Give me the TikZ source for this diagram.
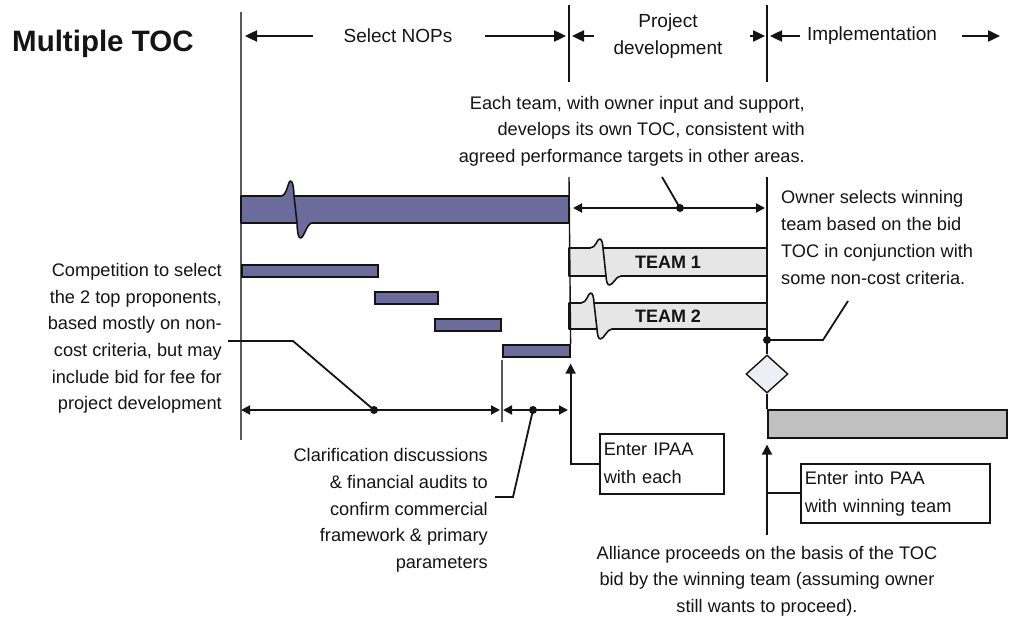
\documentclass[tikz,border=0pt]{standalone}
\usepackage{fontspec}
\setmainfont{Liberation Sans}
\usetikzlibrary{arrows.meta,shapes.geometric,calc}

\definecolor{barblue}{RGB}{108,108,156}
\definecolor{teamgrey}{RGB}{230,230,230}
\definecolor{implgrey}{RGB}{192,192,192}
\definecolor{diafill}{RGB}{238,238,245}
\definecolor{ink}{RGB}{20,20,20}
\definecolor{soft}{RGB}{90,90,90}

\tikzset{
  txt/.style={font=\fontsize{18.2}{26.7}\selectfont, inner sep=0pt, text=ink},
  hdr/.style={font=\fontsize{19}{27}\selectfont, inner sep=0pt, text=ink, align=center},
  phase/.style={line width=1.4pt, draw=ink},
  dimline/.style={line width=1.8pt, draw=ink, {Triangle[length=9pt,width=9pt]}-{Triangle[length=9pt,width=9pt]}},
  hdrarrow/.style={line width=2.4pt, draw=ink, -{Triangle[length=12pt,width=11pt]}},
  uparrow/.style={line width=1.8pt, draw=ink, -{Triangle[length=10pt,width=10pt]}},
  lead/.style={line width=1.8pt, draw=ink},
  dot/.style={circle, fill=ink, inner sep=0pt, minimum size=8pt},
  bluebar/.style={draw=ink, fill=barblue, line width=1.6pt, inner sep=0pt, anchor=north west},
  callout/.style={draw=ink, line width=1.6pt, fill=white, align=left, inner sep=4pt,
    font=\fontsize{18.2}{28}\selectfont, text=ink},
  teamlabel/.style={font=\bfseries\fontsize{18}{20}\selectfont, text=ink, inner sep=0pt}
}

% bar with an S-shaped break: left x, right x, top y, bottom y, break start x, lobe depth, fill
\newcommand{\drawbrokenbar}[7]{%
  \filldraw[fill=#7, draw=ink, line width=1.6pt, line join=round]
    ({#5+13},#3) -- (#2,#3) -- (#2,#4) -- ({#5+31},#4)
    .. controls ({#5+26},#4) and ({#5+23},{#4+#6}) .. ({#5+19.5},{#4+#6})
    .. controls ({#5+17},{#4+#6}) and ({#5+16.3},{#4+0.5*#6}) .. ({#5+16},#4)
    -- (#1,#4) -- (#1,#3) -- (#5,#3)
    .. controls ({#5+6},#3) and ({#5+7},{#3-#6}) .. ({#5+9.5},{#3-#6})
    .. controls ({#5+12},{#3-#6}) and ({#5+12.7},{#3-0.5*#6}) .. ({#5+13},#3)
    -- ({#5+16},#4);
}

\begin{document}
\begin{tikzpicture}[x=1pt, y=-1pt]
\useasboundingbox (0,0) rectangle (1010,618);

% ---- title and phase header ----
\node[font=\bfseries\fontsize{29.5}{30}\selectfont, text=ink, inner sep=0pt, anchor=base west] (title) at (12,52) {Multiple TOC};

\coordinate (p0top) at (241,12);
\coordinate (p0bot) at (241,440);
\coordinate (p1top) at (569,5);
\coordinate (p1hb)  at (569,82);
\coordinate (p2top) at (767,5);
\coordinate (p2hb)  at (767,82);
\draw[line width=1.4pt, draw=soft] (p0top) -- (p0bot);
\draw[phase] (p1top) -- (p1hb);
\draw[phase] (p2top) -- (p2hb);

\node[hdr] (hsel) at (398,36) {Select NOPs};
\node[hdr] (hdev) at (668,36) {Project\\development};
\node[hdr] (himp) at (872,36) {Implementation};

\coordinate (a1s) at (313,36); \coordinate (a1e) at (245,36);
\coordinate (a2s) at (485,36); \coordinate (a2e) at (566,36);
\coordinate (a3s) at (594,36); \coordinate (a3e) at (572,36);
\coordinate (a4s) at (750,36); \coordinate (a4e) at (765,36);
\coordinate (a5s) at (800,36); \coordinate (a5e) at (770,36);
\coordinate (a6s) at (962,36); \coordinate (a6e) at (1000,36);
\foreach \s/\e in {a1s/a1e,a2s/a2e,a3s/a3e,a4s/a4e,a5s/a5e,a6s/a6e}
  \draw[hdrarrow] (\s) -- (\e);

% ---- project development annotation ----
\node[txt, align=right, anchor=east] (teamnote) at (805,131)
  {Each team, with owner input and support,\\develops its own TOC, consistent with\\agreed performance targets in other areas.};

\coordinate (pdL) at (573,208);
\coordinate (pdR) at (765,208);
\draw[dimline] (pdL) -- (pdR);
\node[dot] (pddot) at (680,208) {};
\coordinate (pdlead) at (662,177);
\draw[lead] (pdlead) -- (pddot.center);

% ---- bars ----
\drawbrokenbar{241}{569}{196}{223}{281}{15}{barblue}

\node[bluebar, minimum width=136pt, minimum height=12pt] (b1) at (241,264) {};
\node[bluebar, minimum width=63pt, minimum height=12pt] (b2) at (374,291) {};
\node[bluebar, minimum width=66pt, minimum height=12pt] (b3) at (434,318) {};
\node[bluebar, minimum width=67pt, minimum height=12pt] (b4) at (502,344) {};

\drawbrokenbar{569}{767}{248}{276}{590}{9}{teamgrey}
\drawbrokenbar{569}{767}{303}{329}{581}{10}{teamgrey}
\node[teamlabel] (t1) at (668,262) {TEAM 1};
\node[teamlabel] (t2) at (668,316) {TEAM 2};

% phase boundaries through the bars
\coordinate (m1top) at (569,177);
\draw[phase] (m1top) -- (b4.north east);
\coordinate (m2top) at (767,177);

% ---- owner selection ----
\node[diamond, draw=ink, fill=diafill, line width=1.4pt, minimum width=42pt,
      minimum height=38pt, inner sep=0pt] (dia) at (767,374) {};
\draw[phase] (m2top) -- (dia.north);
\node[dot] (seldot) at (767,340) {};
\node[txt, align=left, anchor=west] (ownernote) at (781,237.5)
  {Owner selects winning\\team based on the bid\\TOC in conjunction with\\some non-cost criteria.};
\coordinate (selbend) at (823,340);
\coordinate (selend) at (848,301);
\draw[lead] (seldot.center) -- (selbend) -- (selend);

\node[draw=ink, fill=implgrey, line width=1.6pt, minimum width=239pt, minimum height=28pt,
      inner sep=0pt, anchor=north west] (gbar) at (767,409) {};
\draw[phase] (dia.south) -- (gbar.north west);

% ---- NOP selection dimension lines ----
\coordinate (s1L) at (241,410);
\coordinate (s1R) at (500,410);
\draw[dimline] (s1L) -- (s1R);
\coordinate (s2L) at (503,410);
\coordinate (s2R) at (568,410);
\draw[dimline] (s2L) -- (s2R);
\coordinate (sepT) at (502,360);
\coordinate (sepB) at (502,422);
\draw[line width=1.4pt, draw=soft] (sepT) -- (sepB);
\node[dot] (cdot) at (374,410) {};
\node[dot] (fdot) at (533,410) {};

\node[txt, align=right, anchor=east] (compnote) at (222,338.5)
  {Competition to select\\the 2 top proponents,\\based mostly on non-\\cost criteria, but may\\include bid for fee for\\project development};
\coordinate (cbend) at (293,341);
\coordinate (cend) at (228,341);
\draw[lead] (cdot.center) -- (cbend) -- (cend);

\node[txt, align=right, anchor=east] (clarnote) at (488,510.5)
  {Clarification discussions\\\& financial audits to\\confirm commercial\\framework \& primary\\parameters};
\coordinate (fbend) at (513,497);
\coordinate (fend) at (495,497);
\draw[lead] (fdot.center) -- (fbend) -- (fend);

% ---- agreements ----
\node[callout, text width=116pt, minimum height=60pt, anchor=north west] (ipaa) at (599,433)
  {Enter IPAA\\with each};
\draw[uparrow, shorten >=6pt] (ipaa.west) -| (b4.south east);

\node[callout, text width=181pt, minimum height=59pt, anchor=north west] (paa) at (800,463)
  {Enter into PAA\\with winning team};
\coordinate (paafoot) at (767,535);
\draw[uparrow, shorten >=6pt] (paafoot) -- (gbar.south west);
\draw[lead] (paa.west) -- (paa.west -| gbar.south west);

\node[txt, align=center] (alliance) at (767,581)
  {Alliance proceeds on the basis of the TOC\\bid by the winning team (assuming owner\\still wants to proceed).};
\end{tikzpicture}
\end{document}
